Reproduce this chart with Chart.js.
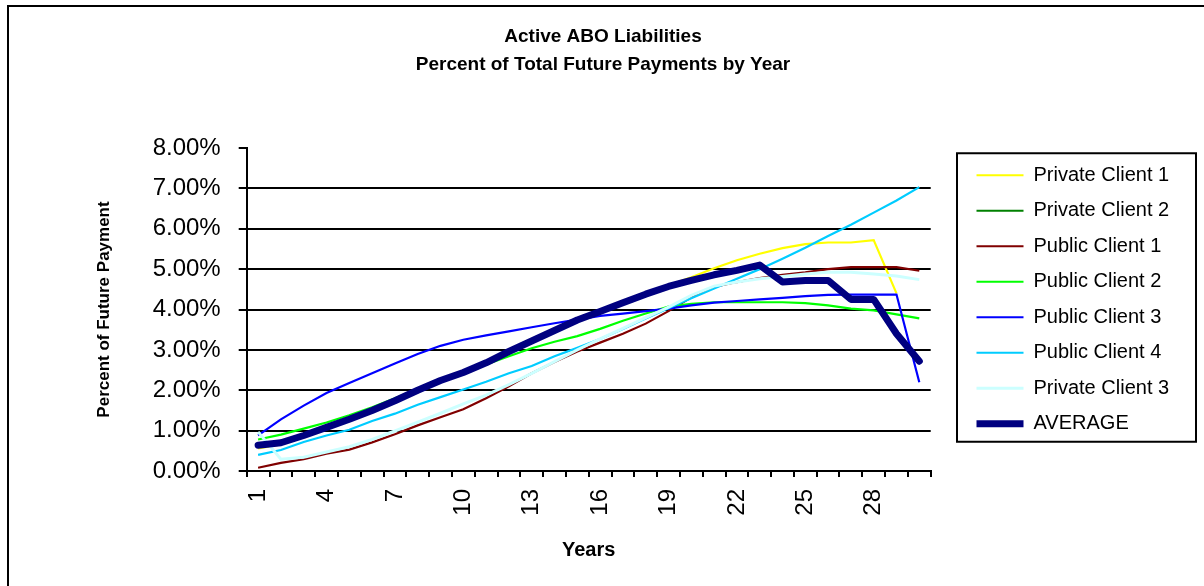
<!DOCTYPE html>
<html>
<head>
<meta charset="utf-8">
<script src="https://cdn.jsdelivr.net/npm/chart.js@4.4.1/dist/chart.umd.min.js"></script>
<style>
  html, body { margin: 0; padding: 0; background: #fff; }
  canvas { display: block; }
</style>
</head>
<body>
<canvas id="aboChart" width="1204" height="586"></canvas>
<script>
// years on the x axis
const years = ['1','2','3','4','5','6','7','8','9','10','11','12','13','14','15',
               '16','17','18','19','20','21','22','23','24','25','26','27','28','29','30'];

// percent of total future payments
const privateClient1 = [0.56, 0.66, 0.86, 1.06, 1.26, 1.48, 1.72, 1.98, 2.22, 2.44, 2.68, 2.96, 3.22, 3.48, 3.74,
                        3.96, 4.18, 4.40, 4.60, 4.80, 5.02, 5.22, 5.38, 5.52, 5.62, 5.66, 5.66, 5.72, 4.40, null];
const privateClient2 = [0.66, 0.72, 0.90, 1.10, 1.30, 1.52, 1.76, 2.02, 2.26, 2.46, 2.70, 2.98, 3.24, 3.50, 3.75,
                        3.96, 4.18, 4.38, 4.57, 4.72, 4.86, 4.97, 5.08, 4.70, 4.72, 4.72, 4.26, 4.25, 3.42, 2.74];
const publicClient1 = [0.08, 0.20, 0.29, 0.43, 0.53, 0.71, 0.91, 1.13, 1.33, 1.53, 1.80, 2.10, 2.42, 2.70, 2.96,
                       3.18, 3.40, 3.65, 3.96, 4.30, 4.56, 4.68, 4.78, 4.86, 4.92, 5.00, 5.05, 5.05, 5.05, 4.96];
const publicClient2 = [0.78, 0.90, 1.05, 1.20, 1.38, 1.58, 1.80, 2.03, 2.24, 2.44, 2.64, 2.84, 3.04, 3.20, 3.34,
                       3.52, 3.72, 3.90, 4.07, 4.14, 4.18, 4.18, 4.18, 4.18, 4.16, 4.10, 4.02, 3.98, 3.88, 3.78];
const publicClient3 = [0.88, 1.28, 1.62, 1.93, 2.18, 2.42, 2.66, 2.90, 3.10, 3.25, 3.36, 3.46, 3.56, 3.66, 3.75,
                       3.84, 3.90, 3.96, 4.02, 4.10, 4.17, 4.21, 4.25, 4.29, 4.33, 4.36, 4.37, 4.37, 4.37, 2.20];
const publicClient4 = [0.40, 0.52, 0.72, 0.88, 1.02, 1.24, 1.42, 1.64, 1.83, 2.02, 2.21, 2.42, 2.60, 2.84, 3.05,
                       3.27, 3.52, 3.78, 4.03, 4.28, 4.52, 4.76, 5.00, 5.26, 5.53, 5.82, 6.10, 6.40, 6.70, 7.03];
const privateClient3 = [0.97, 0.29, 0.34, 0.47, 0.60, 0.78, 0.99, 1.21, 1.43, 1.66, 1.88, 2.14, 2.42, 2.71, 3.00,
                        3.27, 3.53, 3.80, 4.06, 4.35, 4.58, 4.68, 4.76, 4.82, 4.88, 4.92, 4.92, 4.88, 4.83, 4.74];
const average = [0.64, 0.70, 0.88, 1.08, 1.28, 1.50, 1.74, 2.00, 2.24, 2.44, 2.68, 2.96, 3.22, 3.48, 3.74,
                 3.95, 4.17, 4.38, 4.57, 4.72, 4.86, 4.97, 5.10, 4.68, 4.72, 4.72, 4.25, 4.25, 3.40, 2.72];

// y axis ticks (percent)
const yTicks = [0, 1, 2, 3, 4, 5, 6, 7, 8];

Chart.defaults.font.family = "'Liberation Sans', Arial, sans-serif";
Chart.defaults.color = '#000';

function series(label, data, color, width, order) {
  return {
    label: label,
    data: data,
    borderColor: color,
    backgroundColor: color,
    borderWidth: width,
    pointRadius: 0,
    tension: 0,
    fill: false,
    order: order
  };
}

// frame around the whole picture and around the legend
const framePlugin = {
  id: 'frames',
  afterDraw(chart) {
    const ctx = chart.ctx;
    ctx.save();
    ctx.strokeStyle = '#000';
    ctx.lineWidth = 2;
    ctx.beginPath();
    ctx.moveTo(8, chart.height);
    ctx.lineTo(8, 6);
    ctx.lineTo(chart.width, 6);
    ctx.stroke();

    const lg = chart.legend;
    const boxes = lg.legendHitBoxes;
    if (boxes && boxes.length) {
      const first = boxes[0];
      const last = boxes[boxes.length - 1];
      const top = first.top - 12;
      const bottom = last.top + last.height + 8;
      const left = lg.left - 4;
      const right = chart.width - 8;
      ctx.strokeRect(left, top, right - left, bottom - top);
    }
    ctx.restore();
  }
};

const ctx = document.getElementById('aboChart').getContext('2d');
const aboChart = new Chart(ctx, {
  type: 'line',
  data: {
    labels: years,
    datasets: [
      series('Private Client 1', privateClient1, '#FFFF00', 2.2, 8),
      series('Private Client 2', privateClient2, '#008000', 2.2, 7),
      series('Public Client 1', publicClient1, '#800000', 2.2, 6),
      series('Public Client 2', publicClient2, '#00FF00', 2.2, 5),
      series('Public Client 3', publicClient3, '#0000FF', 2.2, 4),
      series('Public Client 4', publicClient4, '#00CCFF', 2.2, 3),
      series('Private Client 3', privateClient3, '#CCFFFF', 3, 2),
      Object.assign(series('AVERAGE', average, '#000080', 7, 1), {
        borderCapStyle: 'round',
        borderJoinStyle: 'round'
      })
    ]
  },
  options: {
    responsive: false,
    animation: false,
    layout: { padding: { left: 30, right: 28, top: 13, bottom: 0 } },
    plugins: {
      title: {
        display: true,
        text: ['Active ABO Liabilities', 'Percent of Total Future Payments by Year'],
        font: { size: 19, weight: 'bold', lineHeight: 28 / 19 },
        color: '#000',
        padding: { top: 10, bottom: 69 }
      },
      legend: {
        position: 'right',
        maxWidth: 215,
        labels: {
          usePointStyle: true,
          pointStyle: 'line',
          pointStyleWidth: 47,
          boxWidth: 47,
          padding: 15.5,
          color: '#000',
          font: { size: 20 },
          sort: (a, b) => a.datasetIndex - b.datasetIndex
        }
      },
      tooltip: { enabled: false }
    },
    scales: {
      x: {
        type: 'category',
        offset: true,
        grid: {
          offset: true,
          drawOnChartArea: false,
          drawTicks: true,
          tickLength: 6,
          color: '#000',
          lineWidth: 2
        },
        border: { color: '#000', width: 2 },
        ticks: {
          autoSkip: false,
          minRotation: 90,
          maxRotation: 90,
          padding: 12,
          font: { size: 24 },
          color: '#000',
          callback: (v, i) => (i % 3 === 0 ? years[i] : '')
        },
        title: {
          display: true,
          text: 'Years',
          font: { size: 20, weight: 'bold' },
          color: '#000',
          padding: { top: 0, bottom: 24 }
        },
        afterFit: (s) => { s.height = 115; }
      },
      y: {
        type: 'linear',
        min: yTicks[0],
        max: yTicks[yTicks.length - 1],
        afterBuildTicks: (s) => { s.ticks = yTicks.map(v => ({ value: v })); },
        grid: {
          color: (c) => (c.tick && c.tick.value === 8 ? 'rgba(0,0,0,0)' : '#000'),
          tickColor: '#000',
          lineWidth: 2,
          tickLength: 8
        },
        border: { color: '#000', width: 2 },
        ticks: {
          padding: 18,
          font: { size: 24 },
          color: '#000',
          callback: (v) => v.toFixed(2) + '%'
        },
        title: {
          display: true,
          text: 'Percent of Future Payment',
          font: { size: 17, weight: 'bold' },
          color: '#000',
          padding: { top: 64, bottom: 0 }
        },
        afterFit: (s) => { s.width = 216.7; }
      },
      gap: {
        type: 'linear',
        position: 'right',
        display: true,
        grid: { display: false },
        border: { display: false },
        ticks: { display: false },
        afterFit: (s) => { s.width = 30.3; }
      }
    }
  },
  plugins: [framePlugin]
});
</script>
</body>
</html>
